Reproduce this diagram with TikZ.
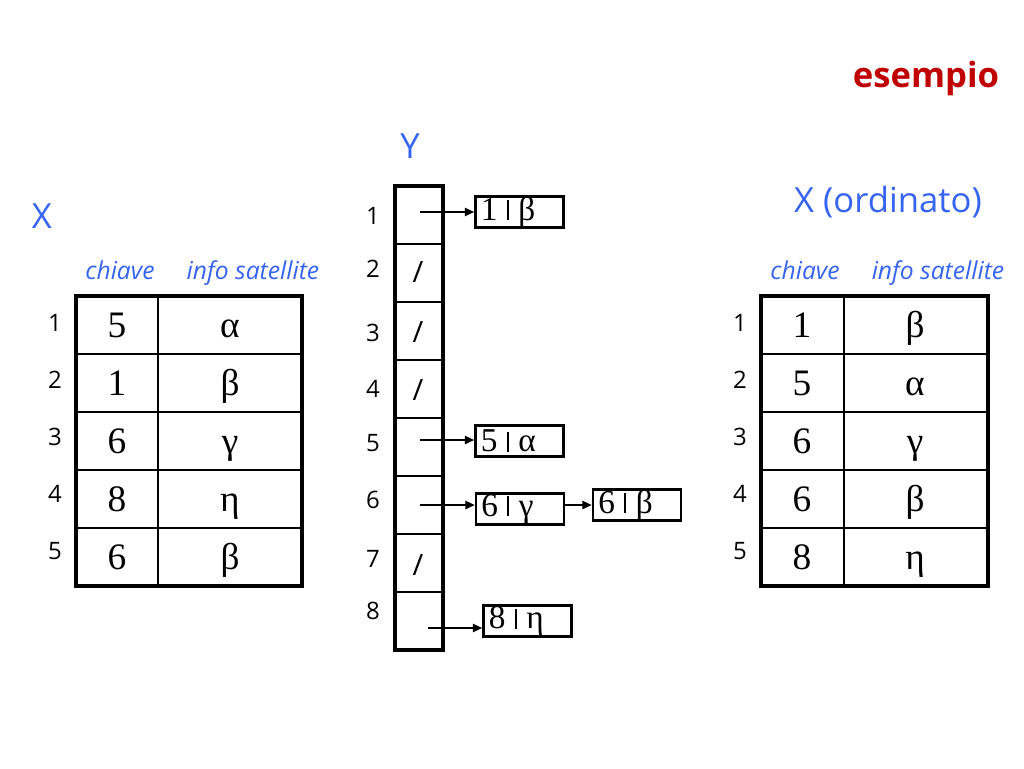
\documentclass[tikz,border=0pt]{standalone}
\usepackage{fontspec}
\setmainfont{Liberation Serif}
\setsansfont{Open Sans}
\usetikzlibrary{arrows.meta}
\definecolor{lblblue}{RGB}{55,100,240}
\definecolor{titlered}{RGB}{192,0,0}
\newcommand{\barsep}{\kern7pt\rule[0pt]{1.6pt}{15pt}\kern7pt}
\tikzset{
  hdr/.style={font=\sffamily\itshape\fontsize{18.5}{22}\selectfont, text=lblblue, inner sep=0, anchor=base},
  arrname/.style={font=\sffamily\fontsize{26}{30}\selectfont, text=lblblue, inner sep=0},
  idx/.style={font=\sffamily\fontsize{18}{20}\selectfont, inner sep=0, anchor=base},
  val/.style={font=\fontsize{28}{30}\selectfont, inner sep=0, anchor=base},
  nil/.style={font=\sffamily\fontsize{22}{24}\selectfont, inner sep=0},
  rec/.style={draw, line width=1.8pt, font=\fontsize{25}{26}\selectfont, text width=58pt,
    inner xsep=4pt, inner ysep=0pt, minimum height=23pt, align=left},
  ptr/.style={line width=1.6pt, -{Triangle[length=7pt,width=6pt]}},
  thick border/.style={line width=2.4pt},
  thin rule/.style={line width=0.9pt}
}
\begin{document}
\begin{tikzpicture}[x=0.75pt,y=-0.75pt]
  \useasboundingbox (0,0) rectangle (1024,768);

  \node[font=\sffamily\bfseries\fontsize{26}{30}\selectfont, text=titlered] (title) at (926,78) {esempio};

  % array X
  \node[arrname] (X) at (42,216) {X};
  \node[hdr] (xkey) at (120,279) {chiave};
  \node[hdr] (xinfo) at (253,279) {info satellite};
  \draw[thin rule] (158,296) -- (158,586);
  \foreach \r in {354,412,470,528}
    \draw[thin rule] (76,\r) -- (302,\r);
  \draw[thick border] (76,296) rectangle (302,586);
  \foreach \k/\v [count=\i] in {5/α,1/β,6/γ,8/η,6/β} {
    \node[idx] (xn\i) at (55,{322+57*(\i-1)+9}) {\i};
    \node[val] (xk\i) at (117,{325+58*(\i-1)+12}) {\k};
    \node[val] (xv\i) at (230,{325+58*(\i-1)+12}) {\v};
  }

  % array Y
  \node[arrname] (Y) at (410,146) {Y};
  \foreach \r in {244,302,...,592}
    \draw[thin rule] (395,\r) -- (443,\r);
  \draw[thick border] (395,186) rectangle (443,650);
  \foreach \y [count=\i] in {215,268,332,388,442,499,558,610}
    \node[idx] (yn\i) at (373,\y+9) {\i};
  \foreach \y/\i in {272/2,332/3,390/4,565/7}
    \node[nil] (nil\i) at (418,\y) {/};

  % lists
  \node[rec] (b1) at (519.5,212) {1\barsep β};
  \node[rec] (b5) at (519.5,441) {5\barsep α};
  \node[rec] (b6) at (520,509) {6\barsep γ};
  \node[rec] (b6b) at (637,505) {6\barsep β};
  \node[rec] (b8) at (527.5,621) {8\barsep η};

  \coordinate (p1) at (420,212);
  \coordinate (p5) at (420,440);
  \coordinate (p6) at (420,505);
  \coordinate (p8) at (428,628);
  \draw[ptr] (p1) -- (p1 -| b1.west);
  \draw[ptr] (p5) -- (p5 -| b5.west);
  \draw[ptr] (p6) -- (p6 -| b6.west);
  \draw[ptr] (b6.east |- b6b.west) -- (b6b.west);
  \draw[ptr] (p8) -- (p8 -| b8.west);

  % array X sorted
  \node[arrname] (Xs) at (888,202) {X (ordinato)};
  \node[hdr] (skey) at (805,279) {chiave};
  \node[hdr] (sinfo) at (938,279) {info satellite};
  \draw[thin rule] (844,296) -- (844,586);
  \foreach \r in {354,412,470,528}
    \draw[thin rule] (761,\r) -- (988,\r);
  \draw[thick border] (761,296) rectangle (988,586);
  \foreach \k/\v [count=\i] in {1/β,5/α,6/γ,6/β,8/η} {
    \node[idx] (sn\i) at (740,{322+57*(\i-1)+9}) {\i};
    \node[val] (sk\i) at (802,{325+58*(\i-1)+12}) {\k};
    \node[val] (sv\i) at (915,{325+58*(\i-1)+12}) {\v};
  }
\end{tikzpicture}
\end{document}
